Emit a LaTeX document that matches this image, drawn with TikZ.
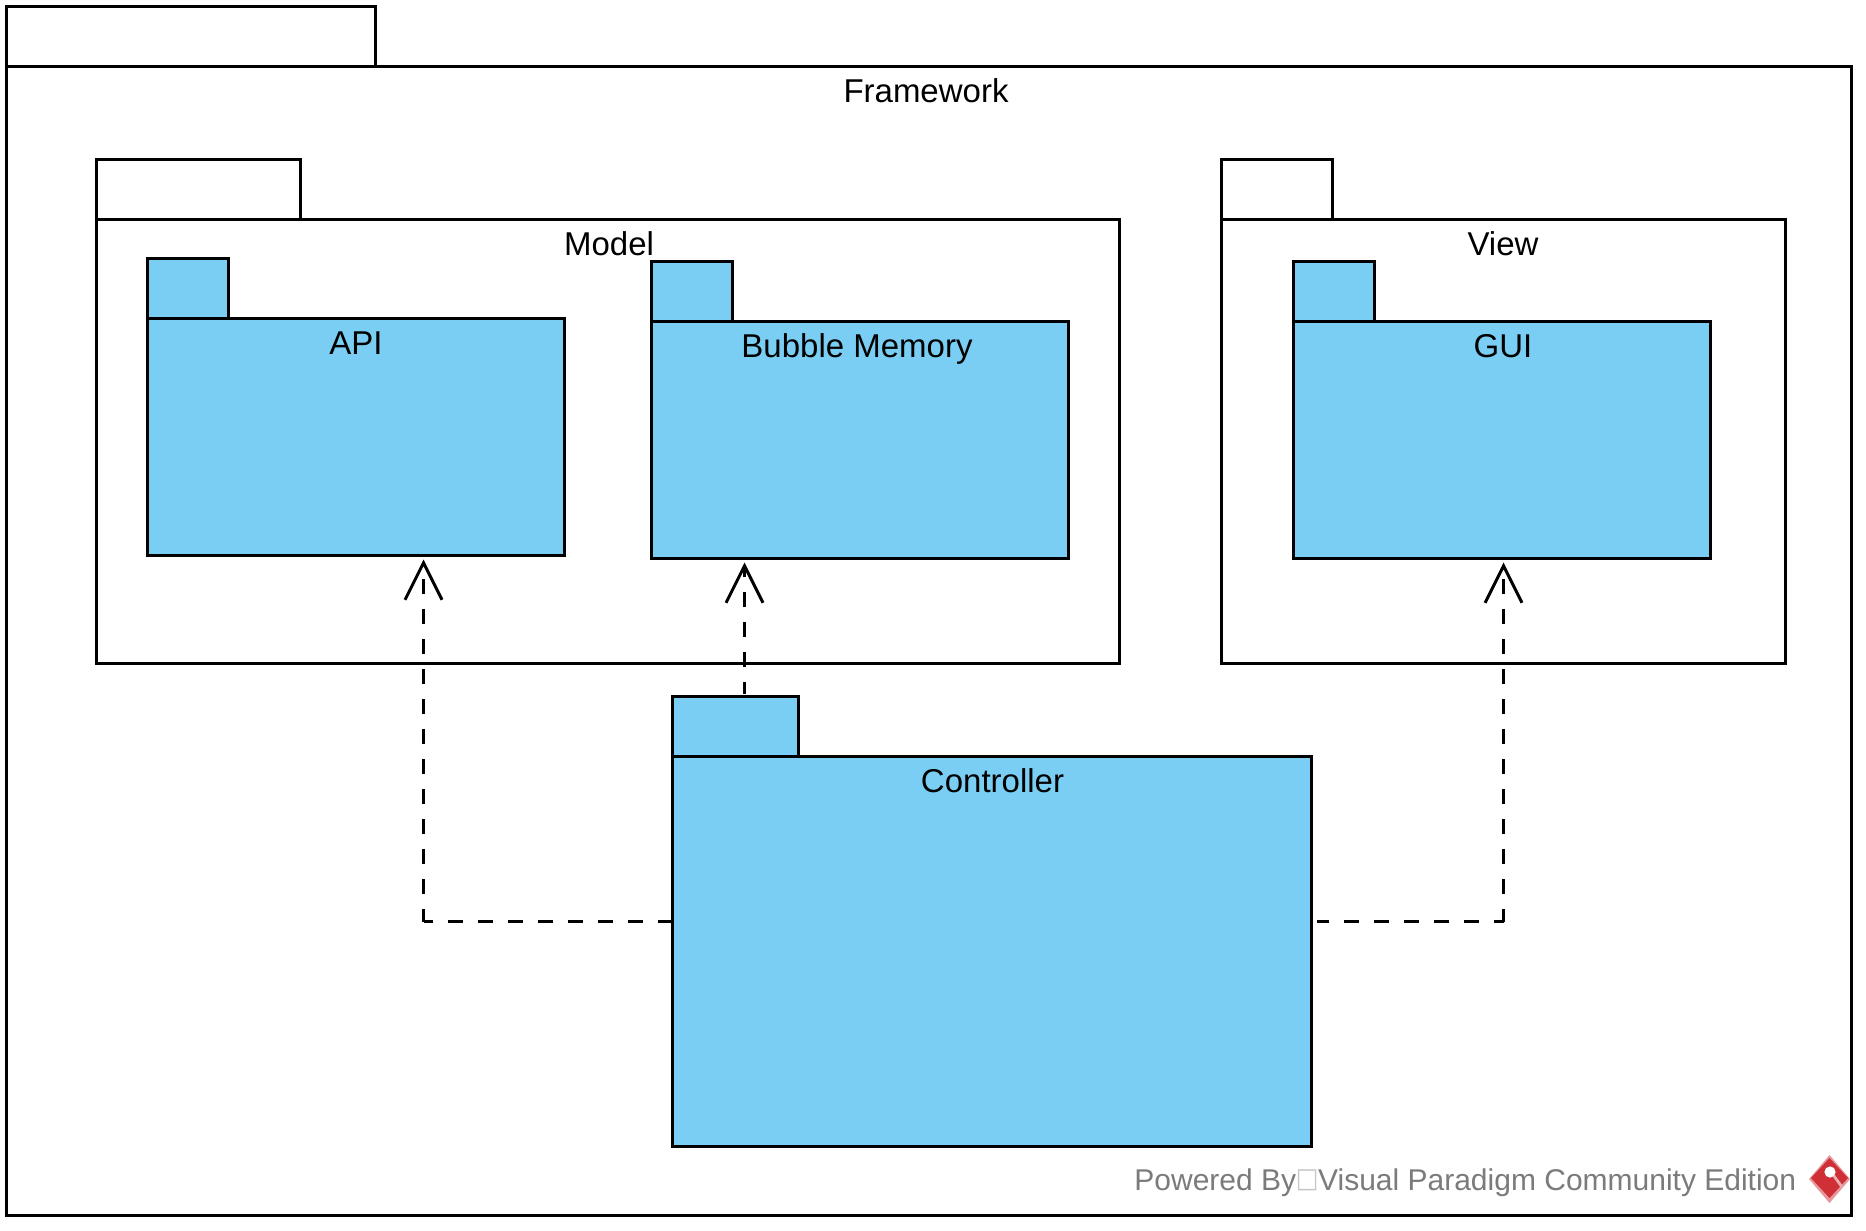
\documentclass[tikz,border=0pt]{standalone}
\usepackage{fontspec}
\setmainfont{Liberation Sans}
\newfontfamily\boxfont{DejaVu Sans}
\usetikzlibrary{arrows.meta}
\definecolor{pkgblue}{HTML}{7ACEF4}
\definecolor{markgray}{HTML}{7B7B7B}
\definecolor{markred}{HTML}{CE3036}
\tikzset{size/.style 2 args={minimum width=#1*0.5pt, minimum height=#2*0.5pt}}
\tikzset{pkg/.style={draw=black, line width=1.5pt, fill=white, inner sep=0pt, outer sep=0pt, anchor=north west}}
\tikzset{pkgfill/.style={pkg, fill=pkgblue}}
\tikzset{pkglabel/.style={anchor=base, font=\fontsize{16.5}{18}\selectfont, inner sep=0pt}}
\tikzset{depline/.style={draw=black, line width=1.5pt, dash pattern=on 7.5pt off 7.5pt}}
\tikzset{dep/.style={depline, -{Straight Barb[length=18.5pt, width=18.5pt]}}}

\begin{document}
\begin{tikzpicture}[x=0.5pt, y=-0.5pt]
\useasboundingbox (0,0) rectangle (1866,1230);
\node[pkg, size={369}{60}] (fwtab) at (6.5,6.5) {};
\node[pkg, size={1845}{1149}] (fw) at (6.5,66.5) {};
\node[pkg, size={204}{60}] (modeltab) at (96.5,159.5) {};
\node[pkg, size={1023}{444}] (model) at (96.5,219.5) {};
\node[pkg, size={111}{60}] (viewtab) at (1221.5,159.5) {};
\node[pkg, size={564}{444}] (view) at (1221.5,219.5) {};
\node[pkgfill, size={81}{60}] (apitab) at (147.5,258.5) {};
\node[pkgfill, size={417}{237}] (api) at (147.5,318.5) {};
\node[pkgfill, size={81}{60}] (bubbletab) at (651.5,261.5) {};
\node[pkgfill, size={417}{237}] (bubble) at (651.5,321.5) {};
\node[pkgfill, size={81}{60}] (guitab) at (1293.5,261.5) {};
\node[pkgfill, size={417}{237}] (gui) at (1293.5,321.5) {};
\node[pkgfill, size={126}{60}] (ctrltab) at (672.5,696.5) {};
\node[pkgfill, size={639}{390}] (ctrl) at (672.5,756.5) {};
\node[pkglabel] (fwlabel) at (926,103) {Framework};
\node[pkglabel] (modellabel) at (609,256) {Model};
\node[pkglabel] (viewlabel) at (1503,256) {View};
\node[pkglabel] (apilabel) at (356,354) {API};
\node[pkglabel] (bubblelabel) at (857,357) {Bubble Memory};
\node[pkglabel] (guilabel) at (1503,357) {GUI};
\node[pkglabel] (ctrllabel) at (992.5,792) {Controller};
\coordinate (apiturn) at (423.5,921.5);
\coordinate (guiturn) at (1503.5,921.5);
\coordinate (bubbleline) at (744.5,630);
\draw[depline] (ctrl.west |- apiturn) -- (apiturn);
\draw[dep, dash phase=1.25pt, shorten >=2pt] (apiturn) -- (apiturn |- api.south);
\draw[dep, dash phase=1.7pt, shorten >=2pt, shorten <=1.5pt] (bubbleline |- ctrltab.north) -- (bubbleline |- bubble.south);
\draw[depline, dash phase=1.5pt, shorten <=2.9pt] (ctrl.east |- guiturn) -- (guiturn);
\draw[dep, dash phase=1.25pt, shorten >=2pt] (guiturn) -- (guiturn |- gui.south);
\node[anchor=base west, inner sep=0pt, text=markgray, font=\fontsize{15}{18}\selectfont] (powered) at (1134,1190) {Powered By\hbox to 11pt{\hss\raisebox{1.2pt}{\scalebox{1}[1.15]{\boxfont\fontsize{12}{14}\selectfont\color{black!22}\char"25A1}}\hss}Visual Paradigm Community Edition};
\fill[markred!50!white] (1829.5,1155) -- (1850,1179) -- (1829.5,1203) -- (1809,1179) -- cycle;
\fill[markred] (1829.5,1158) -- (1848,1178) -- (1829.5,1198) -- (1811,1178) -- cycle;
\draw[white!60!markred, line width=1.4pt] (1831,1172) -- (1842,1187);
\fill[white] (1830,1172) circle (2.8pt);
\end{tikzpicture}
\end{document}
